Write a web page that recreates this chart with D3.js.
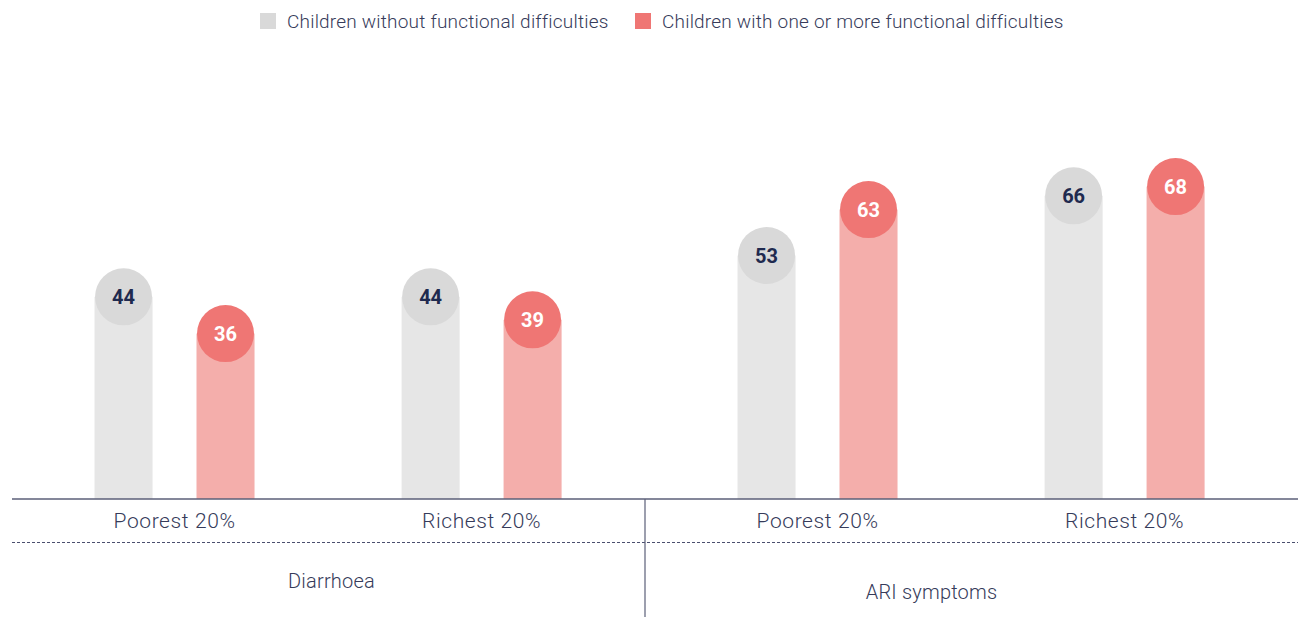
<!DOCTYPE html>
<html>
<head>
<meta charset="utf-8">
<script src="https://cdn.jsdelivr.net/npm/d3@7"></script>
<style>
  body { margin: 0; background: #fff; }
  text { font-family: Roboto, "Noto Sans", sans-serif; }
</style>
</head>
<body>
<div id="chart"></div>
<script>
// data
const panels = ['Diarrhoea', 'ARI symptoms'];
const quintiles = ['Poorest 20%', 'Richest 20%'];
const seriesNames = ['Children without functional difficulties', 'Children with one or more functional difficulties'];
const withoutValues = [44, 44, 53, 66]; // Diarrhoea poorest, richest, ARI poorest, richest
const withValues = [36, 39, 63, 68];

const width = 1302;
const height = 617;
const baseY = 499;

const barColors = ['#e6e6e6', '#f4aeab'];
const dotColors = ['#d9d9d9', '#ef7674'];
const numColors = ['#1f2a4f', '#ffffff'];
const inkColor = '#363b5a';

// flatten into one record per bar
const rows = [];
panels.forEach((p, pi) => {
  quintiles.forEach((q, qi) => {
    const i = pi * quintiles.length + qi;
    rows.push({ panel: p, quintile: q, series: 0, value: withoutValues[i] });
    rows.push({ panel: p, quintile: q, series: 1, value: withValues[i] });
  });
});

const svg = d3.select('#chart')
  .append('svg')
  .attr('width', width)
  .attr('height', height);

// scales: panel -> quintile -> series
const xPanel = d3.scaleBand().domain(panels).range([2, 1288]).padding(0);
const xQuint = d3.scaleBand().domain(quintiles).range([0, xPanel.bandwidth()])
  .paddingInner(0.5).paddingOuter(0.297).align(0.525);
const xSeries = d3.scaleBand().domain([0, 1]).range([-80, 80]).paddingInner(0.431).paddingOuter(0);
const y = d3.scaleLinear().domain([0, 100]).range([baseY, 39.6]);

const groupCenter = (d) => xPanel(d.panel) + xQuint(d.quintile) + xQuint.bandwidth() / 2;
const barX = (d) => groupCenter(d) + xSeries(d.series);
const r = 28.5;

// bars
svg.append('g')
  .selectAll('rect')
  .data(rows)
  .join('rect')
  .attr('x', barX)
  .attr('y', (d) => y(d.value))
  .attr('width', xSeries.bandwidth())
  .attr('height', (d) => baseY - y(d.value))
  .attr('fill', (d) => barColors[d.series]);

// value bubbles on top of each bar
const bubble = svg.append('g')
  .selectAll('g')
  .data(rows)
  .join('g')
  .attr('transform', (d) => `translate(${barX(d) + xSeries.bandwidth() / 2},${y(d.value)})`);

bubble.append('circle')
  .attr('r', r)
  .attr('fill', (d) => dotColors[d.series]);

bubble.append('text')
  .attr('text-anchor', 'middle')
  .attr('dy', '0.36em')
  .attr('font-size', 20)
  .attr('font-weight', 700)
  .attr('fill', (d) => numColors[d.series])
  .text((d) => d.value);

// baseline, dotted separator, panel divider
svg.append('line')
  .attr('x1', 12).attr('x2', 1298)
  .attr('y1', baseY).attr('y2', baseY)
  .attr('stroke', '#5b5f78')
  .attr('stroke-width', 1.5);

svg.append('line')
  .attr('x1', 12).attr('x2', 1298)
  .attr('y1', 542.5).attr('y2', 542.5)
  .attr('stroke', '#4a4f6e')
  .attr('stroke-width', 1)
  .attr('stroke-dasharray', '3,2');

svg.append('line')
  .attr('x1', xPanel(panels[1])).attr('x2', xPanel(panels[1]))
  .attr('y1', baseY).attr('y2', height)
  .attr('stroke', '#5b5f78')
  .attr('stroke-width', 1.2);

// quintile labels
const ticks = [];
panels.forEach((p) => quintiles.forEach((q) => ticks.push({ panel: p, quintile: q })));

svg.append('g')
  .selectAll('text')
  .data(ticks)
  .join('text')
  .attr('x', groupCenter)
  .attr('y', 528)
  .attr('text-anchor', 'middle')
  .attr('font-size', 21)
  .attr('font-weight', 300)
  .attr('letter-spacing', 0.6)
  .attr('fill', inkColor)
  .text((d) => d.quintile);

// panel labels (not centred the same way in the original)
const panelShift = [[8, 0], [-35, 11]];
svg.append('g')
  .selectAll('text')
  .data(panels)
  .join('text')
  .attr('x', (d, i) => xPanel(d) + xPanel.bandwidth() / 2 + panelShift[i][0])
  .attr('y', (d, i) => 588 + panelShift[i][1])
  .attr('text-anchor', 'middle')
  .attr('font-size', 20)
  .attr('font-weight', 300)
  .attr('letter-spacing', 0.2)
  .attr('fill', inkColor)
  .text((d) => d);

// legend
const legend = svg.append('g').attr('transform', 'translate(260,13)');
const legendX = [0, 375];
const item = legend.selectAll('g')
  .data(seriesNames)
  .join('g')
  .attr('transform', (d, i) => `translate(${legendX[i]},0)`);

item.append('rect')
  .attr('width', 16)
  .attr('height', 16)
  .attr('fill', (d, i) => dotColors[i]);

item.append('text')
  .attr('x', 27)
  .attr('y', 15)
  .attr('font-size', 19)
  .attr('font-weight', 300)
  .attr('letter-spacing', 0.2)
  .attr('fill', inkColor)
  .text((d) => d);
</script>
</body>
</html>
